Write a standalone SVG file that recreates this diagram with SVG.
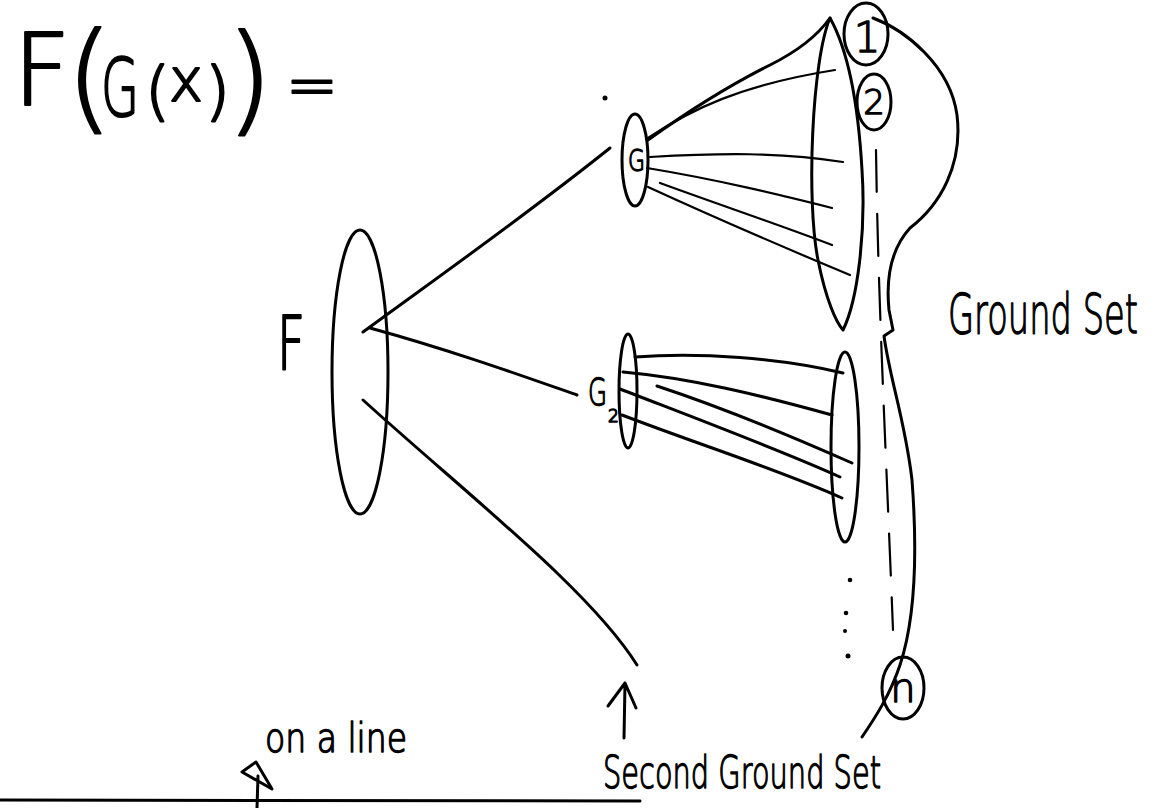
<svg xmlns="http://www.w3.org/2000/svg" width="1158" height="808" viewBox="0 0 1158 808">
<style>
.ink{fill:none;stroke:#000;stroke-width:3;stroke-linecap:round;stroke-linejoin:round}
.thin{stroke-width:2.2}
.dash{stroke-width:2.2;stroke-dasharray:42 22}
.t{font-family:"DejaVu Sans","Liberation Sans",sans-serif;font-weight:200;fill:#000;stroke:#000;stroke-width:1.4;stroke-linejoin:round}
.tb{stroke-width:2.2}
</style>
<rect width="1158" height="808" fill="#fff"/>

<g id="title">
<text class="t tb"><tspan x="13" y="105" font-size="100">F</tspan><tspan x="66" y="118" font-size="120">(</tspan><tspan x="101" y="116" font-size="80" textLength="38" lengthAdjust="spacingAndGlyphs">G</tspan><tspan x="145" y="113" font-size="64">(</tspan><tspan x="169" y="101" font-size="60" textLength="34" lengthAdjust="spacingAndGlyphs">x</tspan><tspan x="205" y="113" font-size="64">)</tspan><tspan x="226" y="120" font-size="120">)</tspan><tspan x="286" y="106" font-size="62">=</tspan></text>
</g>

<g id="connectors">
<path class="ink" d="M363,332 C420,290 520,220 610,148"/>
<path class="ink" d="M370,328 C450,350 520,375 577,395"/>
<path class="ink" d="M363,400 C470,497 590,590 637,665"/>
<path class="ink" d="M648,140 C690,110 730,85 770,65 C800,50 818,35 830,18"/>
<path class="ink thin" d="M648,138 C690,110 740,85 835,70"/>
<path class="ink thin" d="M650,157 C720,153 780,152 843,162"/>
<path class="ink thin" d="M647,168 C720,180 780,195 832,208"/>
<path class="ink thin" d="M660,183 C720,205 780,225 832,245"/>
<path class="ink thin" d="M648,187 C720,220 790,250 850,275"/>
<path class="ink" d="M635,357 C700,352 780,358 843,373"/>
<path class="ink" d="M623,372 C690,378 760,395 832,415"/>
<path class="ink" d="M657,386 C730,410 800,440 852,463"/>
<path class="ink" d="M620,389 C700,420 780,450 840,477"/>
<path class="ink" d="M622,415 C700,445 780,470 842,498"/>
</g>

<g id="node-F">
<ellipse class="ink" cx="360" cy="372" rx="28" ry="142"/>
<text class="t tb" x="277" y="370" font-size="75" textLength="28" lengthAdjust="spacingAndGlyphs">F</text>
</g>

<g id="node-G1">
<ellipse class="ink" cx="635" cy="160" rx="13" ry="46"/>
<text class="t" x="628" y="171" font-size="30" textLength="17" lengthAdjust="spacingAndGlyphs">G</text>
</g>

<g id="node-G2">
<ellipse class="ink" cx="628" cy="391" rx="9" ry="57"/>
<text class="t" x="607" y="405" font-size="38" text-anchor="end" textLength="19" lengthAdjust="spacingAndGlyphs">G</text>
<text class="t" x="608" y="422" font-size="17">2</text>
</g>

<g id="set-1">
<path class="ink" d="M830,18 C812,60 806,200 818,260 C826,300 836,322 843,330 C858,300 866,230 862,170 C858,100 848,50 830,18 Z"/>
</g>

<g id="set-2">
<ellipse class="ink" cx="845" cy="447" rx="14" ry="95"/>
</g>

<g id="dots">
<circle cx="850" cy="580" r="2.3"/>
<circle cx="846" cy="613" r="2.3"/>
<circle cx="845" cy="631" r="2"/>
<circle cx="848" cy="656" r="2.5"/>
<circle cx="605" cy="98" r="2.5"/>
</g>

<g id="ground-set">
<path class="ink" d="M873,18 C905,30 950,65 957,115 C963,165 940,205 910,228 C890,250 886,280 889,310 L893,330 L884,336 C890,380 905,420 912,480 C918,560 915,620 900,665 C890,695 875,718 862,737"/>
<path class="ink dash" d="M876,150 C878,300 886,450 893,630"/>
<text class="t" x="1138" y="333" font-size="56" text-anchor="end" textLength="190" lengthAdjust="spacingAndGlyphs">Ground Set</text>
</g>

<g id="elem-1">
<ellipse class="ink" cx="866" cy="34" rx="22" ry="31"/>
<text class="t" x="867" y="52" font-size="42" text-anchor="middle">1</text>
</g>

<g id="elem-2">
<ellipse class="ink" cx="874" cy="102" rx="17" ry="28"/>
<text class="t" x="874" y="114" font-size="34" text-anchor="middle">2</text>
</g>

<g id="elem-n">
<ellipse class="ink" cx="903" cy="688" rx="21" ry="31"/>
<text class="t" x="903" y="702" font-size="40" text-anchor="middle">n</text>
</g>

<g id="second-ground-set">
<path class="ink" d="M624,738 L625,683 M608,706 L625,683 L636,708"/>
<text class="t" x="603" y="788" font-size="44" textLength="278" lengthAdjust="spacingAndGlyphs">Second Ground Set</text>
</g>

<g id="on-a-line">
<path class="ink" d="M0,800 L640,801"/>
<path class="ink" d="M256,762 L242,772 L272,789 Z M258,776 L257,808"/>
<text class="t" x="265" y="752" font-size="40" textLength="142" lengthAdjust="spacingAndGlyphs">on a line</text>
</g>
</svg>
